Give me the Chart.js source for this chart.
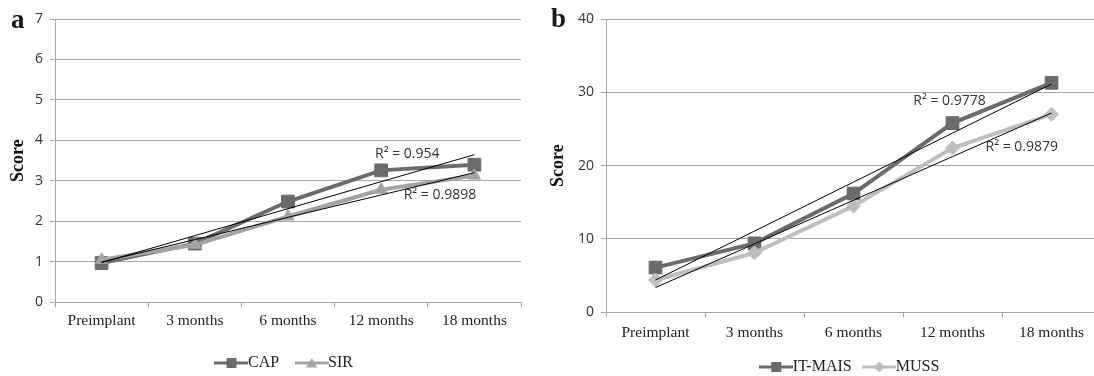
<!DOCTYPE html>
<html>
<head>
<meta charset="utf-8">
<script src="https://cdn.jsdelivr.net/npm/chart.js@4.4.0/dist/chart.umd.min.js"></script>
<style>
  html, body { margin: 0; padding: 0; background: #fff; overflow: hidden; }
  #wrap { position: relative; width: 1094px; height: 376px; overflow: hidden; background: #fff; }
  canvas { position: absolute; top: 0; }
  #chartA { left: 0; }
  #chartB { left: 546px; }
  .panel { position: absolute; font-family: "Liberation Serif", serif; font-weight: bold; font-size: 27px; line-height: 1; color: #1a1a1a; }
</style>
</head>
<body>
<div id="wrap">
  <canvas id="chartA" width="548" height="390"></canvas>
  <canvas id="chartB" width="565" height="390"></canvas>
  <div class="panel" style="left:11px; top:6px">a</div>
  <div class="panel" style="left:551px; top:5px">b</div>
</div>
<script>
// categorias del eje x
var categories = ['Preimplant', '3 months', '6 months', '12 months', '18 months'];

// panel a
var capValues = [0.97, 1.45, 2.49, 3.26, 3.4];
var sirValues = [1.05, 1.42, 2.12, 2.78, 3.13];
var r2LabelsA = ['R\u00b2 = 0.954', 'R\u00b2 = 0.9898'];

// panel b
var itMaisValues = [6.1, 9.4, 16.2, 25.8, 31.3];
var mussValues = [4.4, 8.1, 14.5, 22.4, 27.0];
var r2LabelsB = ['R\u00b2 = 0.9778', 'R\u00b2 = 0.9879'];

var GRID = '#a6a6a6';
var DARK = '#6b6b6b';
var MID = '#a3a3a3';
var LIGHT = '#bebebe';

// linea de tendencia lineal (minimos cuadrados, x = 1..n)
function trendValues(values) {
  var n = values.length, sx = 0, sy = 0, sxy = 0, sxx = 0;
  values.forEach(function (v, i) {
    var x = i + 1;
    sx += x; sy += v; sxy += x * v; sxx += x * x;
  });
  var slope = (n * sxy - sx * sy) / (n * sxx - sx * sx);
  var icpt = (sy - slope * sx) / n;
  return values.map(function (v, i) { return icpt + slope * (i + 1); });
}

// icono de la leyenda: linea con marcador
function legendKey(color, shape) {
  var c = document.createElement('canvas');
  c.width = 34; c.height = 16;
  var g = c.getContext('2d');
  g.strokeStyle = color;
  g.fillStyle = color;
  g.lineWidth = 3;
  g.beginPath(); g.moveTo(0, 8); g.lineTo(34, 8); g.stroke();
  g.beginPath();
  if (shape === 'rect') {
    g.rect(12, 3, 10, 10);
  } else if (shape === 'triangle') {
    g.moveTo(17, 3); g.lineTo(22.5, 12.5); g.lineTo(11.5, 12.5); g.closePath();
  } else {
    g.moveTo(17, 2.5); g.lineTo(22.5, 8); g.lineTo(17, 13.5); g.lineTo(11.5, 8); g.closePath();
  }
  g.fill();
  return c;
}

var r2Plugin = {
  id: 'r2Labels',
  afterDatasetsDraw: function (chart, args, opts) {
    var ctx = chart.ctx, xs = chart.scales.x, ys = chart.scales.y;
    ctx.save();
    ctx.font = '14px "Open Sans"';
    ctx.fillStyle = '#333';
    ctx.textAlign = 'center';
    ctx.textBaseline = 'middle';
    opts.items.forEach(function (it) {
      ctx.fillText(it.text, xs.getPixelForValue(it.at[0]), ys.getPixelForValue(it.at[1]));
    });
    ctx.restore();
  }
};

function seriesDataset(label, values, color, style, radius, order) {
  return {
    label: label,
    data: values,
    borderColor: color,
    backgroundColor: color,
    borderWidth: 4,
    pointStyle: style,
    pointRadius: radius,
    pointBackgroundColor: color,
    pointBorderColor: color,
    pointBorderWidth: 1,
    tension: 0,
    order: order
  };
}

function trendDataset(values) {
  return {
    label: 'trend',
    isTrend: true,
    data: trendValues(values),
    borderColor: '#000',
    borderWidth: 1,
    pointRadius: 0,
    tension: 0,
    order: 0
  };
}

function buildChart(id, cfg) {
  var keys = cfg.keys;
  var ctx = document.getElementById(id).getContext('2d');
  return new Chart(ctx, {
    type: 'line',
    data: { labels: categories, datasets: cfg.datasets },
    plugins: [r2Plugin],
    options: {
      responsive: false,
      animation: false,
      devicePixelRatio: 1,
      events: [],
      layout: { padding: cfg.padding },
      scales: {
        x: {
          offset: true,
          grid: { offset: true, drawOnChartArea: false, tickLength: 5, color: GRID, lineWidth: 1 },
          border: { color: GRID, width: 1 },
          ticks: {
            padding: cfg.xPad, color: '#222', autoSkip: false, maxRotation: 0,
            font: { family: 'Liberation Serif', size: 15.5 }
          },
          afterFit: function (s) { s.height = cfg.xHeight; }
        },
        y: {
          min: 0, max: cfg.yMax,
          grid: { color: GRID, tickLength: 5, lineWidth: 1 },
          border: { color: GRID, width: 1 },
          ticks: {
            stepSize: cfg.yStep, padding: 7, color: '#333',
            font: { family: 'Open Sans', size: 14 }
          },
          title: {
            display: true, text: 'Score', color: '#111',
            font: { family: 'Liberation Serif', size: 18, weight: 'bold' },
            padding: { top: cfg.titlePad, bottom: 0 }
          },
          afterFit: function (s) { s.width = cfg.yWidth; }
        }
      },
      plugins: {
        tooltip: { enabled: false },
        r2Labels: { items: cfg.r2 },
        legend: {
          position: 'bottom',
          fullSize: false,
          labels: {
            usePointStyle: true,
            pointStyleWidth: 17,
            boxHeight: 16,
            padding: cfg.legendPad,
            color: '#222',
            font: { family: 'Liberation Serif', size: 16 },
            filter: function (item, data) { return !data.datasets[item.datasetIndex].isTrend; },
            sort: function (a, b) { return a.datasetIndex - b.datasetIndex; },
            generateLabels: function (chart) {
              var items = Chart.defaults.plugins.legend.labels.generateLabels(chart);
              items.forEach(function (it) {
                if (keys[it.datasetIndex]) it.pointStyle = keys[it.datasetIndex];
              });
              return items;
            }
          }
        }
      }
    }
  });
}

var chartA = buildChart('chartA', {
  datasets: [
    seriesDataset('CAP', capValues, DARK, 'rect', 9, 2),
    seriesDataset('SIR', sirValues, MID, 'triangle', 7, 1),
    trendDataset(capValues),
    trendDataset(sirValues)
  ],
  keys: [legendKey(DARK, 'rect'), legendKey(MID, 'triangle')],
  padding: { top: 19, right: 27, bottom: 9, left: 0 },
  yMax: 7, yStep: 1, yWidth: 55, titlePad: 8,
  xPad: 4, xHeight: 28.7, legendPad: 24,
  r2: [
    { text: r2LabelsA[0], at: [3.28, 3.67] },
    { text: r2LabelsA[1], at: [3.63, 2.65] }
  ]
});

var chartB = buildChart('chartB', {
  datasets: [
    seriesDataset('IT-MAIS', itMaisValues, DARK, 'rect', 9, 2),
    seriesDataset('MUSS', mussValues, LIGHT, 'rectRot', 7, 1),
    trendDataset(itMaisValues),
    trendDataset(mussValues)
  ],
  keys: [legendKey(DARK, 'rect'), legendKey(LIGHT, 'diamond')],
  padding: { top: 19, right: 10, bottom: 5, left: 0 },
  yMax: 40, yStep: 10, yWidth: 60, titlePad: 2,
  xPad: 6, xHeight: 27.7, legendPad: 19,
  r2: [
    { text: r2LabelsB[0], at: [2.97, 28.8] },
    { text: r2LabelsB[1], at: [3.70, 22.5] }
  ]
});
</script>
</body>
</html>
